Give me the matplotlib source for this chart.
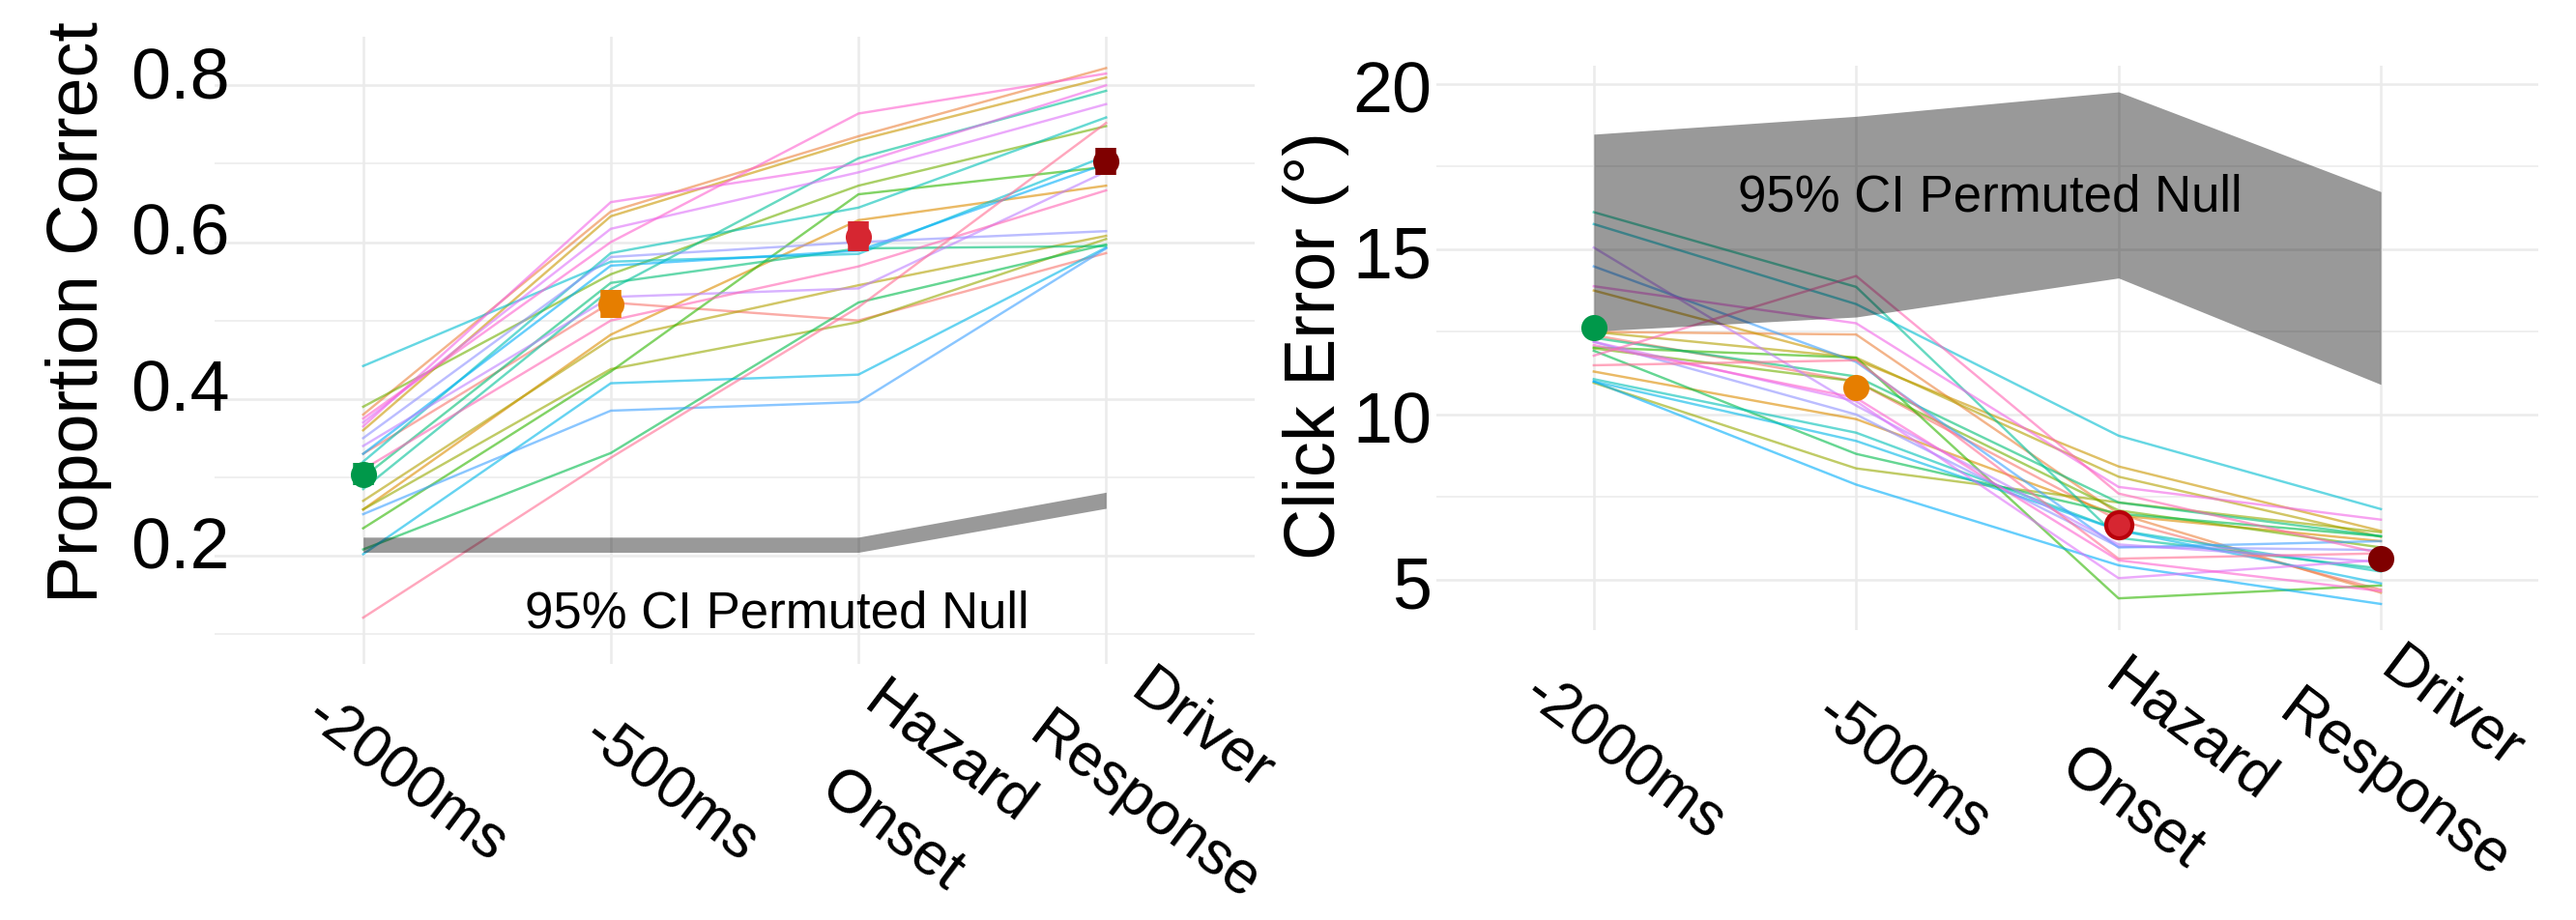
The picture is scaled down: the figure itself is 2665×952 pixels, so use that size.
import numpy as np
import matplotlib
matplotlib.use("Agg")
import matplotlib.pyplot as plt
from matplotlib.transforms import ScaledTranslation

plt.rcParams['font.family'] = ['Liberation Sans', 'DejaVu Sans']

# ---------------- data ----------------
conditions = ["-2000ms", "-500ms", "Hazard\nOnset", "Driver\nResponse"]

# proportion correct per participant (one row per participant, columns = conditions)
prop_correct = [
    [0.330, 0.523, 0.500, 0.586],
    [0.380, 0.639, 0.735, 0.822],
    [0.259, 0.482, 0.628, 0.672],
    [0.360, 0.633, 0.730, 0.810],
    [0.270, 0.476, 0.545, 0.608],
    [0.259, 0.438, 0.498, 0.604],
    [0.390, 0.559, 0.672, 0.748],
    [0.235, 0.435, 0.661, 0.696],
    [0.208, 0.331, 0.523, 0.597],
    [0.300, 0.548, 0.592, 0.595],
    [0.285, 0.540, 0.707, 0.793],
    [0.320, 0.586, 0.644, 0.759],
    [0.442, 0.575, 0.585, 0.710],
    [0.202, 0.420, 0.431, 0.593],
    [0.330, 0.570, 0.589, 0.700],
    [0.253, 0.385, 0.396, 0.592],
    [0.350, 0.581, 0.600, 0.614],
    [0.340, 0.530, 0.541, 0.690],
    [0.370, 0.617, 0.689, 0.776],
    [0.365, 0.651, 0.700, 0.800],
    [0.375, 0.600, 0.764, 0.815],
    [0.310, 0.500, 0.569, 0.666],
    [0.121, 0.325, 0.517, 0.752],
]
prop_mean = [0.304, 0.521, 0.607, 0.703]
prop_se = [0.014, 0.018, 0.019, 0.017]
prop_null_lo = [0.2044, 0.2044, 0.2044, 0.2605]
prop_null_hi = [0.2237, 0.2237, 0.2237, 0.2810]

# click error (degrees) per participant
click_error = [
    [12.40, 11.00, 6.80, 4.70],
    [12.50, 12.42, 7.00, 4.61],
    [11.30, 9.86, 6.95, 6.17],
    [13.75, 11.65, 8.43, 6.48],
    [12.50, 11.72, 8.12, 6.30],
    [10.96, 8.37, 7.34, 6.44],
    [12.00, 11.00, 7.10, 5.98],
    [12.03, 11.72, 4.44, 4.83],
    [11.93, 8.81, 7.00, 6.32],
    [12.32, 11.15, 7.34, 6.32],
    [16.12, 13.86, 6.27, 5.34],
    [11.07, 9.45, 6.50, 5.25],
    [15.76, 13.34, 9.36, 7.14],
    [11.00, 9.20, 6.50, 4.89],
    [11.00, 7.88, 5.44, 4.27],
    [14.48, 11.59, 5.98, 6.17],
    [12.20, 10.00, 6.00, 5.90],
    [15.05, 10.27, 6.07, 5.54],
    [12.20, 10.40, 5.05, 5.60],
    [13.88, 12.76, 7.81, 6.82],
    [12.10, 10.50, 5.59, 4.66],
    [11.78, 14.19, 7.61, 5.80],
    [11.49, 11.64, 5.64, 5.80],
]
err_mean = [12.63, 10.83, 6.66, 5.63]
err_null_lo = [12.52, 12.95, 14.13, 10.91]
err_null_hi = [18.48, 19.02, 19.76, 16.74]

mean_colors = ["#00984A", "#E67E00", "#D62631", "#7F0000"]


# ---------------- ggplot-like hue palette ----------------
def hue_pal(n, c=100.0, l=65.0, h0=15.0, h1=375.0):
    hues = np.linspace(h0, h1, n + 1)[:-1]
    Xn, Yn, Zn = 95.047, 100.0, 108.883
    denom = Xn + 15 * Yn + 3 * Zn
    un, vn = 4 * Xn / denom, 9 * Yn / denom
    Y = Yn * ((l + 16) / 116) ** 3
    out = []
    for h in hues:
        u = c * np.cos(np.radians(h))
        v = c * np.sin(np.radians(h))
        up = u / (13 * l) + un
        vp = v / (13 * l) + vn
        X = 9 * Y * up / (4 * vp)
        Z = Y * (12 - 3 * up - 20 * vp) / (4 * vp)
        xyz = np.array([X, Y, Z]) / 100
        M = np.array([[3.2404542, -1.5371385, -0.4985314],
                      [-0.9692660, 1.8760108, 0.0415560],
                      [0.0556434, -0.2040259, 1.0572252]])
        rgb = M @ xyz
        rgb = np.where(rgb <= 0.0031308, 12.92 * rgb,
                       1.055 * np.clip(rgb, 0, None) ** (1 / 2.4) - 0.055)
        out.append(tuple(np.clip(rgb, 0, 1)))
    return out


W, H = 2665, 952
fig = plt.figure(figsize=(W / 100, H / 100), dpi=100)


def px_axes(l, t, r, b):
    return [l / W, 1 - b / H, (r - l) / W, (b - t) / H]


ax1 = fig.add_axes(px_axes(222, 38, 1298, 687))
ax2 = fig.add_axes(px_axes(1486, 68, 2626, 652))

x = np.arange(1, len(conditions) + 1)
pal = hue_pal(len(prop_correct))

for ax in (ax1, ax2):
    for s in ax.spines.values():
        s.set_visible(False)
    ax.set_xlim(0.4, 4.6)
    ax.set_xticks(x)
    ax.set_xticklabels(conditions)
    ax.tick_params(axis='both', which='both', length=0)
    ax.tick_params(axis='x', pad=0, labelsize=45)
    ax.tick_params(axis='y', labelsize=53)
    ax.grid(True, which='major', color='#EBEBEB', lw=1.8)
    ax.grid(True, which='minor', axis='y', color='#EBEBEB', lw=1.1)
    ax.set_axisbelow(True)

# ---------- left panel ----------
ax1.set_ylim(0.062, 0.862)
ax1.set_yticks([0.2, 0.4, 0.6, 0.8])
ax1.set_yticks([0.1, 0.3, 0.5, 0.7], minor=True)
ax1.set_yticklabels(["0.2", "0.4", "0.6", "0.8"])
for i, row in enumerate(prop_correct):
    ax1.plot(x, row, color=pal[i], alpha=0.6, lw=1.75, zorder=2)
ax1.fill_between(x, prop_null_lo, prop_null_hi, color='black', alpha=0.4, lw=0, zorder=3)
for i in range(len(x)):
    ax1.errorbar(x[i], prop_mean[i], yerr=prop_se[i], fmt='none', ecolor=mean_colors[i],
                 elinewidth=15.5, capsize=0, zorder=4)
    ax1.plot(x[i], prop_mean[i], 'o', ms=19.5, color=mean_colors[i], mec='none', zorder=5)
ax1.text(2.67, 0.108, "95% CI Permuted Null", fontsize=38, ha='center', va='baseline', zorder=6)
ax1.set_ylabel("Proportion Correct", fontsize=53)
ax1.yaxis.set_label_coords(-0.0989, 0.561)

# ---------- right panel ----------
ax2.set_ylim(3.48, 20.55)
ax2.set_yticks([5, 10, 15, 20])
ax2.set_yticks([7.5, 12.5, 17.5], minor=True)
ax2.set_yticklabels(["5", "10", "15", "20"])
for i, row in enumerate(click_error):
    ax2.plot(x, row, color=pal[i], alpha=0.6, lw=1.75, zorder=2)
ax2.fill_between(x, err_null_lo, err_null_hi, color='black', alpha=0.4, lw=0, zorder=3)
for i in range(len(x)):
    edge = '#B8000A' if i == 2 else 'none'
    ax2.plot(x[i], err_mean[i], 'o', ms=19.5, color=mean_colors[i], mec=edge, mew=3, zorder=5)
ax2.text(2.51, 16.15, "95% CI Permuted Null", fontsize=38, ha='center', va='baseline', zorder=6)
ax2.set_ylabel("Click Error (°)", fontsize=53)
ax2.yaxis.set_label_coords(-0.0789, 0.505)

# ---------- tick label placement ----------
ax1.tick_params(axis='y', pad=-11.5)
ax2.tick_params(axis='y', pad=3.6)


def shift(lab, dx_px, dy_px):
    lab.set_transform(lab.get_transform() +
                      ScaledTranslation(dx_px / 100, dy_px / 100, fig.dpi_scale_trans))


for lab in ax1.get_yticklabels():
    lab.set_va('baseline')
    shift(lab, 0, -13)
for lab in ax2.get_yticklabels():
    lab.set_va('baseline')
    shift(lab, 0, -30)

left_dx = [141, 144, 144, 182]
right_dx = [128, 131, 124, 156]
for ax, dxs, dy in ((ax1, left_dx, 194), (ax2, right_dx, 206)):
    for lab, dx in zip(ax.get_xticklabels(), dxs):
        lab.set_rotation(-37)
        lab.set_rotation_mode('anchor')
        lab.set_ha('right')
        lab.set_va('center')
        lab.set_multialignment('center')
        lab.set_linespacing(1.9)
        shift(lab, dx, -dy)

fig.savefig("out.png", dpi=100, facecolor='white')
